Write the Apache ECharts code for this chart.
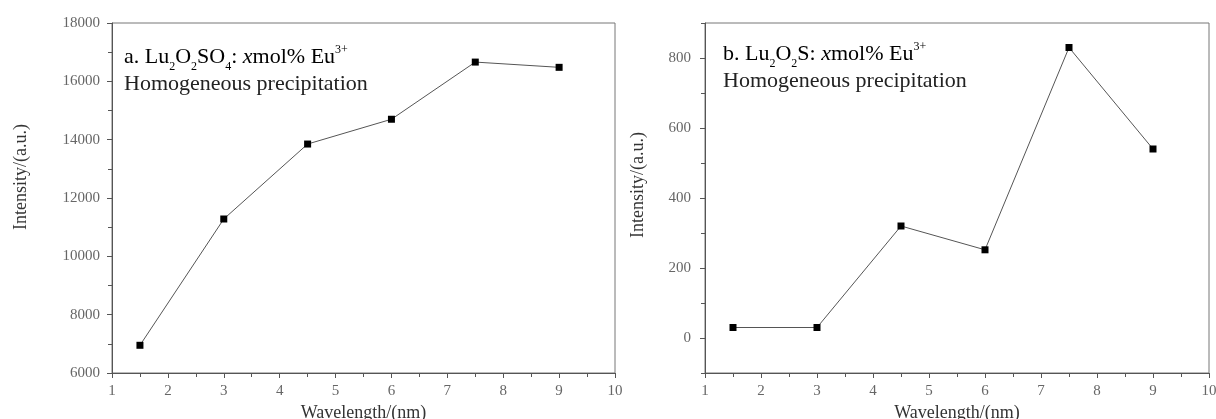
<!DOCTYPE html>
<html>
<head>
<meta charset="utf-8">
<title>Intensity vs Wavelength</title>
<script src="https://cdn.jsdelivr.net/npm/echarts@6/dist/echarts.min.js"></script>
<style>
  body { margin: 0; background: #fff; }
  #container { width: 1216px; height: 419px; }
</style>
</head>
<body>
<div id="container"></div>
<script>
// data
var xValues = [1.5, 3, 4.5, 6, 7.5, 9];
var intensityA = [6950, 11280, 13850, 14700, 16660, 16480];   // Lu2O2SO4
var intensityB = [30, 30, 320, 252, 830, 540];                 // Lu2O2S
var yTicksB = [0, 200, 400, 600, 800];
var yMinorB = [-100, 100, 300, 500, 700, 900];

var font = '"Liberation Serif", "DejaVu Serif", serif';
var axisColor = '#555';
var labelColor = '#666';

function pairs(ys) {
    return xValues.map(function (x, i) { return [x, ys[i]]; });
}

function xAxisFor(grid) {
    return {
        type: 'value', gridIndex: grid, min: 1, max: 10, interval: 1,
        name: 'Wavelength/(nm)', nameLocation: 'middle', nameGap: 25,
        nameTextStyle: { fontFamily: font, fontSize: 18, color: '#333' },
        axisLine: { onZero: false, lineStyle: { color: axisColor, width: 1 } },
        axisTick: { length: 5, lineStyle: { color: axisColor } },
        minorTick: { show: true, splitNumber: 2, length: 4, lineStyle: { color: axisColor } },
        axisLabel: { fontFamily: font, fontSize: 15, color: labelColor, margin: 11 },
        splitLine: { show: false }
    };
}

function plain(v) { return String(v); }

// rich text for the sample labels
var richStyle = {
    n: { fontFamily: font, fontSize: 22, color: '#222', lineHeight: 26 },
    i: { fontFamily: font, fontSize: 22, color: '#222', fontStyle: 'italic', lineHeight: 26 },
    s: { fontFamily: font, fontSize: 12, color: '#222', verticalAlign: 'bottom', lineHeight: 26, padding: [0, 0, -3, 0] },
    p: { fontFamily: font, fontSize: 12, color: '#222', verticalAlign: 'top', lineHeight: 26 }
};

var myChart = echarts.init(document.getElementById('container'));

var option = {
    animation: false,
    grid: [
        { left: 112, right: 601, top: 23, bottom: 46, outerBoundsMode: 'none', show: true, borderColor: '#777', borderWidth: 1 },
        { left: 705, right: 7, top: 23, bottom: 46, outerBoundsMode: 'none', show: true, borderColor: '#777', borderWidth: 1 }
    ],
    xAxis: [xAxisFor(0), xAxisFor(1)],
    yAxis: [
        {
            type: 'value', gridIndex: 0, min: 6000, max: 18000, interval: 2000,
            name: 'Intensity/(a.u.)', nameLocation: 'middle', nameGap: 82,
            nameTextStyle: { fontFamily: font, fontSize: 18, color: '#333', padding: [0, 0, 0, 42] },
            axisLine: { show: true, lineStyle: { color: axisColor } },
            axisTick: { show: true, length: 5, lineStyle: { color: axisColor } },
            minorTick: { show: true, splitNumber: 2, length: 4, lineStyle: { color: axisColor } },
            axisLabel: { fontFamily: font, fontSize: 15, color: labelColor, margin: 12, formatter: plain },
            splitLine: { show: false }
        },
        {
            type: 'value', gridIndex: 1, min: -100, max: 900, interval: 100,
            name: 'Intensity/(a.u.)', nameLocation: 'middle', nameGap: 58,
            nameTextStyle: { fontFamily: font, fontSize: 18, color: '#333', padding: [0, 0, 0, 26] },
            axisLine: { show: true, lineStyle: { color: axisColor } },
            axisTick: { show: true, length: 5, customValues: yTicksB, lineStyle: { color: axisColor } },
            axisLabel: { fontFamily: font, fontSize: 15, color: labelColor, margin: 14, customValues: yTicksB, formatter: plain },
            splitLine: { show: false }
        },
        {
            type: 'value', gridIndex: 1, min: -100, max: 900, interval: 100,
            position: 'left', offset: 0,
            axisLine: { show: false },
            axisTick: { show: true, length: 4, customValues: yMinorB, lineStyle: { color: axisColor } },
            axisLabel: { show: false },
            splitLine: { show: false }
        }
    ],
    series: [
        {
            type: 'line', xAxisIndex: 0, yAxisIndex: 0, data: pairs(intensityA),
            symbol: 'rect', symbolSize: 7, itemStyle: { color: '#000' },
            lineStyle: { color: '#555', width: 1 }
        },
        {
            type: 'line', xAxisIndex: 1, yAxisIndex: 1, data: pairs(intensityB),
            symbol: 'rect', symbolSize: 7, itemStyle: { color: '#000' },
            lineStyle: { color: '#555', width: 1 }
        }
    ],
    graphic: [
        {
            type: 'text', left: 124, top: 44,
            style: { text: '{n|a. Lu}{s|2}{n|O}{s|2}{n|SO}{s|4}{n|: }{i|x}{n|mol% Eu}{p|3+}', rich: richStyle }
        },
        {
            type: 'text', left: 124, top: 73,
            style: { text: 'Homogeneous precipitation', fontFamily: font, fontSize: 22, fill: '#222' }
        },
        {
            type: 'text', left: 723, top: 41,
            style: { text: '{n|b. Lu}{s|2}{n|O}{s|2}{n|S: }{i|x}{n|mol% Eu}{p|3+}', rich: richStyle }
        },
        {
            type: 'text', left: 723, top: 70,
            style: { text: 'Homogeneous precipitation', fontFamily: font, fontSize: 22, fill: '#222' }
        }
    ]
};

myChart.setOption(option);
</script>
</body>
</html>
